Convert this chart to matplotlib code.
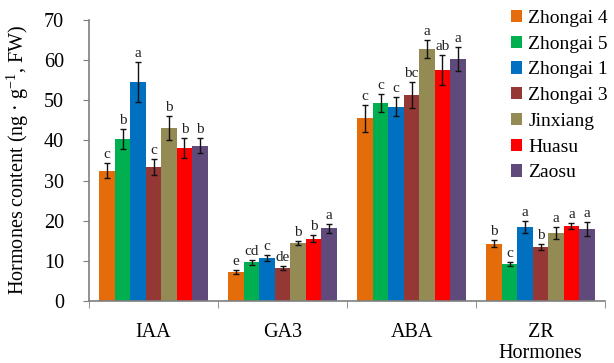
import matplotlib
matplotlib.use("Agg")
import matplotlib.pyplot as plt
import numpy as np

categories = ["IAA", "GA3", "ABA", "ZR"]
cultivars = ["Zhongai 4", "Zhongai 5", "Zhongai 1", "Zhongai 3", "Jinxiang", "Huasu", "Zaosu"]
colors = ["#E46C0A", "#00B050", "#0070C0", "#953735", "#948A54", "#FF0000", "#604A7B"]

# values per cultivar across IAA, GA3, ABA, ZR
zhongai4 = [32.5, 7.3, 45.5, 14.3]
zhongai5 = [40.4, 9.6, 49.3, 9.2]
zhongai1 = [54.5, 10.7, 48.4, 18.4]
zhongai3 = [33.3, 8.2, 51.3, 13.4]
jinxiang = [43.0, 14.4, 62.8, 17.0]
huasu = [38.0, 15.5, 57.5, 18.7]
zaosu = [38.7, 18.1, 60.3, 18.0]

err_zhongai4 = [1.9, 0.5, 3.3, 0.9]
err_zhongai5 = [2.5, 0.6, 2.2, 0.5]
err_zhongai1 = [5.0, 0.8, 2.4, 1.5]
err_zhongai3 = [2.0, 0.5, 3.2, 0.8]
err_jinxiang = [3.0, 0.5, 2.2, 1.5]
err_huasu = [2.5, 0.9, 3.8, 0.7]
err_zaosu = [1.8, 1.2, 2.9, 1.8]

let_zhongai4 = ["c", "e", "c", "b"]
let_zhongai5 = ["b", "cd", "c", "c"]
let_zhongai1 = ["a", "c", "c", "a"]
let_zhongai3 = ["c", "de", "bc", "b"]
let_jinxiang = ["b", "b", "a", "a"]
let_huasu = ["b", "b", "ab", "a"]
let_zaosu = ["b", "a", "a", "a"]

values = [zhongai4, zhongai5, zhongai1, zhongai3, jinxiang, huasu, zaosu]
errors = [err_zhongai4, err_zhongai5, err_zhongai1, err_zhongai3, err_jinxiang, err_huasu, err_zaosu]
letters = [let_zhongai4, let_zhongai5, let_zhongai1, let_zhongai3, let_jinxiang, let_huasu, let_zaosu]

plt.rcParams['font.family'] = ['Liberation Serif', 'DejaVu Serif']
plt.rcParams['mathtext.fontset'] = 'custom'
plt.rcParams['mathtext.rm'] = 'Liberation Serif'

fig = plt.figure(figsize=(6.14, 3.63), dpi=100)
ax = fig.add_axes([89/614, 1-301/363, (605-89)/614, (301-20)/363])

x = np.arange(len(categories))
bw = 0.12
n = len(cultivars)
for i in range(n):
    pos = x + (i - (n-1)/2) * bw
    ax.bar(pos, values[i], width=bw, color=colors[i], label=cultivars[i], zorder=2)
    ax.errorbar(pos, values[i], yerr=errors[i], fmt='none', ecolor='#111111',
                elinewidth=1.0, capsize=2, capthick=1.0, zorder=3)
    for j in range(len(categories)):
        ax.text(pos[j], values[i][j] + errors[i][j] + 0.5, letters[i][j],
                ha='center', va='bottom', fontsize=11, color='#222222')

ax.set_xlim(-0.5, 3.5)
ax.set_ylim(0, 70)
ax.set_yticks(np.arange(0, 71, 10))
ax.tick_params(axis='y', direction='out', length=4, color='#7f7f7f', labelsize=14.5, pad=14)
ax.set_xticks(x)
ax.set_xticklabels(categories, fontsize=14.5)
ax.tick_params(axis='x', which='major', length=0, pad=16)
ax.set_xticks(np.arange(-0.5, 3.6, 1.0), minor=True)
ax.tick_params(axis='x', which='minor', direction='out', length=5, color='#7f7f7f')
for s in ['top', 'right']:
    ax.spines[s].set_visible(False)
for s in ['left', 'bottom']:
    ax.spines[s].set_color('#7f7f7f')
    ax.spines[s].set_linewidth(1.2)

fig.text(18/614, 1-160/363, "Hormones content (ng · g$^{-1}$, FW)", rotation=90,
         ha='center', va='center', fontsize=14.5)
fig.text(540/614, 1-354/363, "Hormones", ha='center', va='center', fontsize=14.5)

leg = ax.legend(loc='upper left', bbox_to_anchor=(501/614, 1.0), bbox_transform=fig.transFigure,
                frameon=False, fontsize=14, handlelength=0.6, handleheight=0.6,
                handletextpad=0.3, labelspacing=0.45, borderaxespad=0.1)

fig.savefig("out.png", dpi=100)
